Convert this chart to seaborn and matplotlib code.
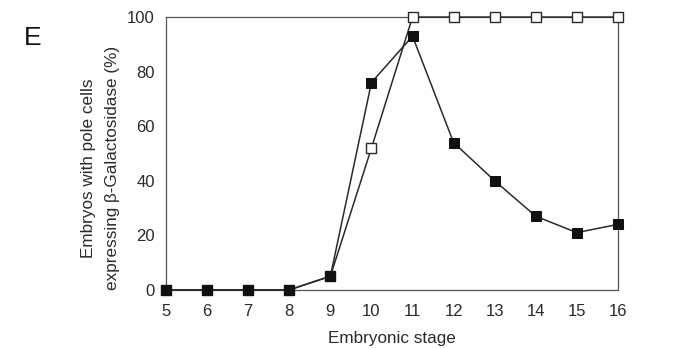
import matplotlib
matplotlib.use('Agg')
from matplotlib import pyplot as plt
import pandas as pd
import seaborn as sns

# embryonic stages
stages = [5, 6, 7, 8, 9, 10, 11, 12, 13, 14, 15, 16]
# open squares
open_pct = [0, 0, 0, 0, 5, 52, 100, 100, 100, 100, 100, 100]
# filled squares
filled_pct = [0, 0, 0, 0, 5, 76, 93, 54, 40, 27, 21, 24]

df_open = pd.DataFrame({'stage': stages, 'pct': open_pct})
df_filled = pd.DataFrame({'stage': stages, 'pct': filled_pct})

sns.set_style('white')
plt.rcParams['font.family'] = ['Liberation Sans', 'DejaVu Sans']

fig = plt.figure(figsize=(6.95, 3.48), dpi=100)
ax = fig.add_axes([0.239, 0.167, 0.65, 0.784])

line_col = '#2a2a2a'
# open series first, filled series on top
sns.lineplot(x='stage', y='pct', data=df_open, ax=ax, color=line_col, lw=1.1,
             marker='s', markersize=7, markerfacecolor='white',
             markeredgecolor=line_col, markeredgewidth=1.0, clip_on=False, zorder=3)
sns.lineplot(x='stage', y='pct', data=df_filled, ax=ax, color=line_col, lw=1.1,
             marker='s', markersize=7, markerfacecolor='#111111',
             markeredgecolor='#111111', clip_on=False, zorder=4)

# axis limits and ticks
ax.set_xlim(5, 16)
ax.set_ylim(0, 100)
ax.set_xticks(stages)
ax.set_yticks([0, 20, 40, 60, 80, 100])
ax.tick_params(direction='in', length=3, width=0.8, colors='#555555',
               labelcolor='#2a2a2a', labelsize=12)
ax.tick_params(axis='x', pad=10)
ax.tick_params(axis='y', pad=8)

for sp in ax.spines.values():
    sp.set_color('#555555')
    sp.set_linewidth(0.9)

ax.set_xlabel('Embryonic stage', fontsize=12.3, color='#2a2a2a')
ax.xaxis.set_label_coords(0.5, -0.15)
ax.set_ylabel('Embryos with pole cells\nexpressing β-Galactosidase (%)',
              fontsize=12.3, color='#2a2a2a', linespacing=1.75)
ax.yaxis.set_label_coords(-0.103, 0.447)

fig.text(0.035, 0.87, 'E', fontsize=19, color='#111111')

fig.savefig('out.png', dpi=100)
